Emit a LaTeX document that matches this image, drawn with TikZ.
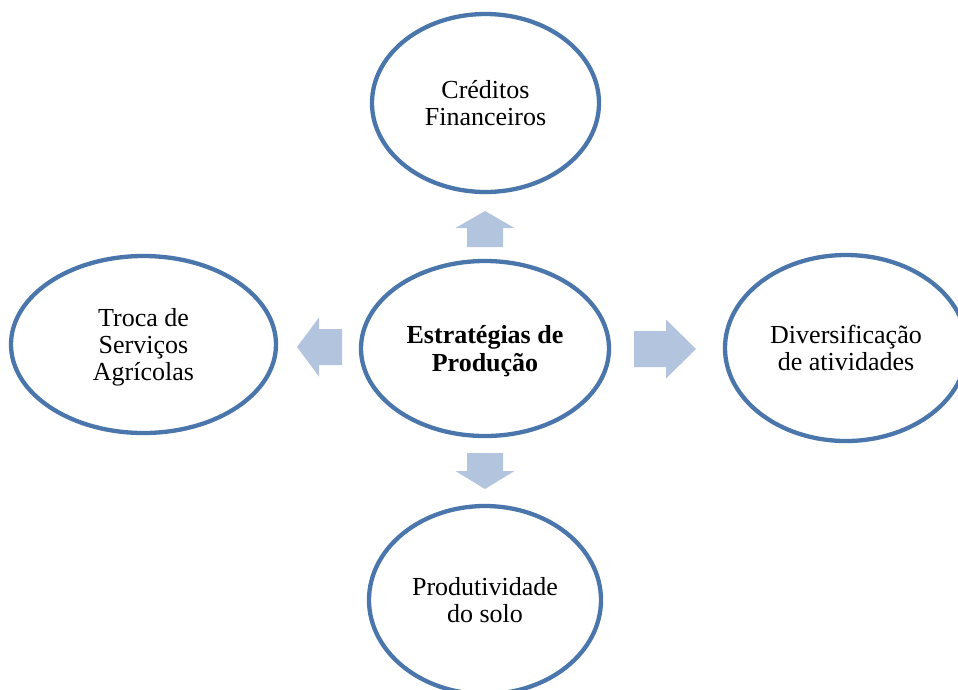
\documentclass[tikz,border=0pt]{standalone}
\usepackage{fontspec}
\setmainfont{Liberation Serif}
\usetikzlibrary{shapes.geometric}
\definecolor{ringblue}{RGB}{74,118,172}
\definecolor{arrowblue}{RGB}{179,196,222}

\begin{document}
\begin{tikzpicture}[x=1pt,y=-1pt]
\useasboundingbox (0,0) rectangle (958,689);
\clip (0,0) rectangle (958,689);

% set style here
\tikzstyle{every node}=[draw=ringblue,line width=4.3pt,shape=ellipse,inner sep=0pt,
  align=center,font=\fontsize{26}{27}\selectfont];
\tikzstyle{blockarrow}=[fill=arrowblue,draw=none];
%
\node (centre) at (485, 348.5) [minimum width=248pt,minimum height=175pt,text depth=0pt,
  font=\fontsize{26}{28}\selectfont\bfseries] {Estratégias de\\Produção};
\node (credit) at (485.5, 103) [minimum width=227pt,minimum height=178pt] {Créditos\\Financeiros};
\node (troca) at (143.5, 344.5) [minimum width=265pt,minimum height=177pt,text depth=0pt] {Troca de\\Serviços\\Agrícolas};
\node (divers) at (846, 348) [minimum width=242pt,minimum height=186pt] {Diversificação\\de atividades};
\node (solo) at (485, 600) [minimum width=232pt,minimum height=188pt] {Produtividade\\do solo};

% block arrows: base x/y, angle, length, head length
\foreach \x/\y/\a/\len/\head in {485/247/90/36/17, 485/453/-90/36/18, 342/347/180/45/22, 634/349/0/62/30}
  \fill[blockarrow,shift={(\x,\y)},rotate=\a] (0,18) -- (\len-\head,18) -- (\len-\head,29.5)
    -- (\len,0) -- (\len-\head,-29.5) -- (\len-\head,-18) -- (0,-18) -- cycle;

\end{tikzpicture}
\end{document}
